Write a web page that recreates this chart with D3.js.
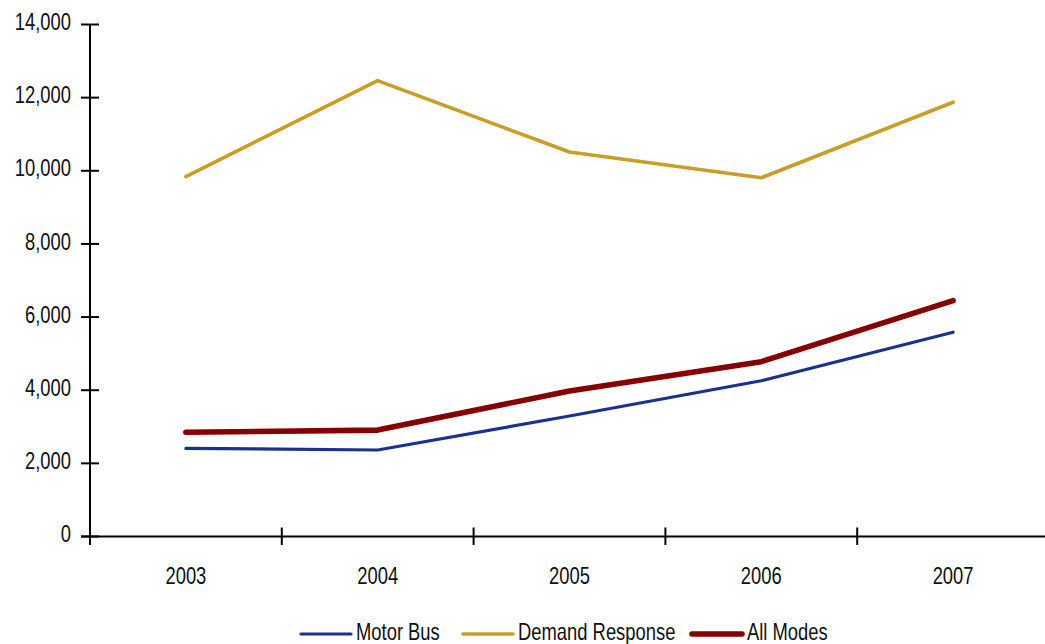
<!DOCTYPE html>
<html>
<head>
<meta charset="utf-8">
<script src="https://cdn.jsdelivr.net/npm/d3@7"></script>
<style>
  body { margin: 0; background: #fff; overflow: hidden; }
  text { font-family: "Liberation Sans", Arial, sans-serif; fill: #111; font-size: 23px; }
</style>
</head>
<body>
<script>
var wd = 1045
var ht = 644
var squeeze = 0.8 // narrow look of the original font

// data
var years = ["2003", "2004", "2005", "2006", "2007"]
var motorBus = [2410, 2365, 3295, 4260, 5585]
var demandResponse = [9840, 12465, 10515, 9810, 11875]
var allModes = [2850, 2910, 3980, 4780, 6450]
var yTicks = [0, 2000, 4000, 6000, 8000, 10000, 12000, 14000]

var series = [
  {name: "Motor Bus", values: motorBus, col: "#1b3191", w: 3.2},
  {name: "Demand Response", values: demandResponse, col: "#c99d28", w: 3.6},
  {name: "All Modes", values: allModes, col: "#860000", w: 5.6}
]

var svgCont = d3.select("body").append("svg")
  .attr("width", wd)
  .attr("height", ht)

var x = d3.scaleBand()
  .domain(years)
  .range([90, 1049])

var y = d3.scaleLinear()
  .domain([0, 14000])
  .range([536.5, 24.5])

function place(px, py) {
  return "translate(" + px + "," + py + ") scale(" + squeeze + ",1)"
}

// y axis
var yAxis = svgCont.append("g")
yAxis.append("line")
  .attr("x1", 90).attr("x2", 90)
  .attr("y1", y(14000)).attr("y2", 545)
  .attr("stroke", "#000").attr("stroke-width", 2)

yAxis.selectAll(".yt").data(yTicks).enter().append("line")
  .attr("x1", 81).attr("x2", 99)
  .attr("y1", function(d) { return y(d) }).attr("y2", function(d) { return y(d) })
  .attr("stroke", "#000").attr("stroke-width", 2)

yAxis.selectAll(".yl").data(yTicks).enter().append("text")
  .attr("transform", function(d) { return place(71, y(d) + 5.7) })
  .attr("text-anchor", "end")
  .text(function(d) { return d3.format(",")(d) })

// x axis
var xAxis = svgCont.append("g")
xAxis.append("line")
  .attr("x1", 81).attr("x2", wd)
  .attr("y1", y(0)).attr("y2", y(0))
  .attr("stroke", "#000").attr("stroke-width", 2)

var bounds = years.map(function(d) { return x(d) })
bounds.push(x.range()[1])
xAxis.selectAll(".xt").data(bounds).enter().append("line")
  .attr("x1", function(d) { return d }).attr("x2", function(d) { return d })
  .attr("y1", y(0) - 9).attr("y2", 545)
  .attr("stroke", "#000").attr("stroke-width", 2)

xAxis.selectAll(".xl").data(years).enter().append("text")
  .attr("transform", function(d) { return place(x(d) + x.bandwidth() / 2, 583.5) })
  .attr("text-anchor", "middle")
  .text(function(d) { return d })

var line = d3.line()
  .x(function(d, i) { return x(years[i]) + x.bandwidth() / 2 })
  .y(function(d) { return y(d) })

svgCont.selectAll(".series").data(series).enter().append("path")
  .attr("d", function(d) { return line(d.values) })
  .attr("fill", "none")
  .attr("stroke", function(d) { return d.col })
  .attr("stroke-width", function(d) { return d.w })
  .attr("stroke-linecap", "round")
  .attr("stroke-linejoin", "round")

// legend
var legX = [301, 463, 692]
var leg = svgCont.selectAll(".leg").data(series).enter().append("g")
  .attr("transform", function(d, i) { return "translate(" + legX[i] + ",0)" })

leg.append("line")
  .attr("x1", 0).attr("x2", 50)
  .attr("y1", 634).attr("y2", 634)
  .attr("stroke", function(d) { return d.col })
  .attr("stroke-width", function(d) { return d.w })
  .attr("stroke-linecap", "round")

leg.append("text")
  .attr("transform", place(55, 639.5))
  .text(function(d) { return d.name })
</script>
</body>
</html>
